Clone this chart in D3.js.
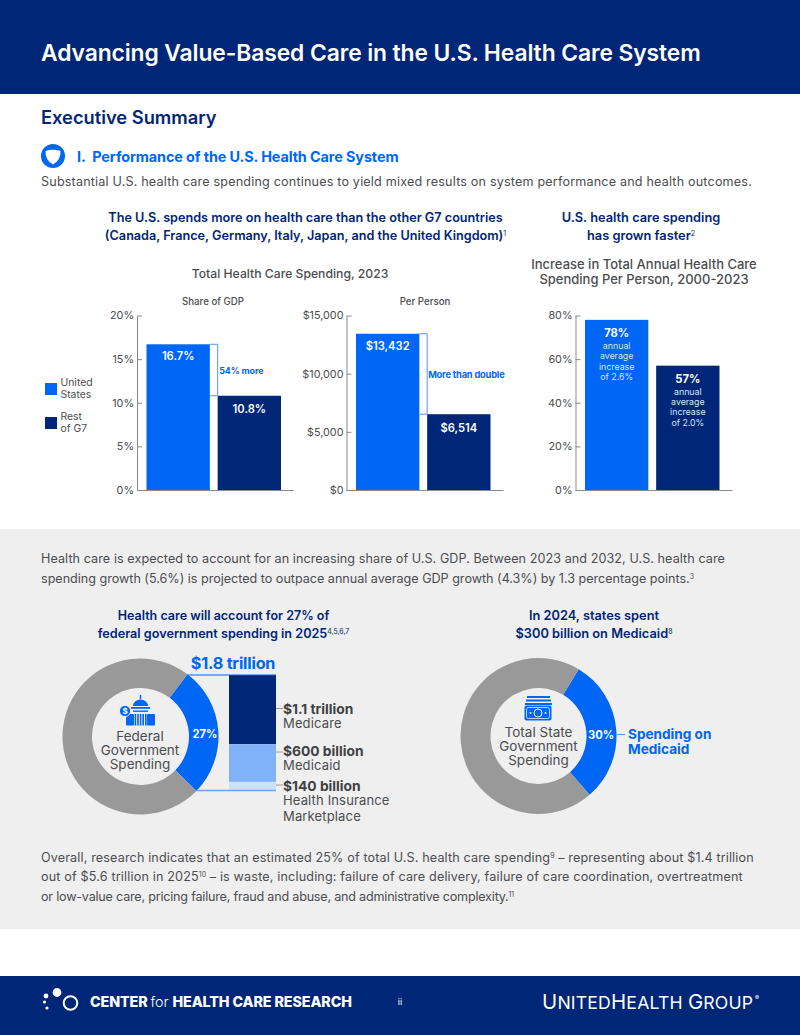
<!DOCTYPE html>
<html><head><meta charset="utf-8">
<script src="https://cdn.jsdelivr.net/npm/d3@7/dist/d3.min.js"></script>
<style>html,body{margin:0;padding:0;background:#fff}svg{display:block}text{font-family:Inter,"Noto Sans",sans-serif}</style>
</head><body><svg id="c" width="800" height="1035"></svg>
<script>
const NAVY="#002677",BLUE="#0066F5",GRAY="#4B4D4F",RING="#999999",EDGE="#5A94E8";
const barCategories=["United States","Rest of G7"];
const gdpShare=[16.7,10.8];
const gdpLabels=["16.7%","10.8%"];
const gdpTicks=[0,5,10,15,20];
const perPerson=[13432,6514];
const perPersonLabels=["$13,432","$6,514"];
const perPersonTicks=[0,5000,10000,15000];
const growth=[78,57];
const growthLabels=["78%","57%"];
const growthNotes=[["annual","average","increase","of 2.6%"],["annual","average","increase","of 2.0%"]];
const growthTicks=[0,20,40,60,80];
const federalShare=[27,73];
const stateShare=[30,70];
const stackNames=["Medicare","Medicaid","Health Insurance Marketplace"];
const stackValues=[1.1,0.6,0.14];
const stackColors=[NAVY,"#80B2FA","#CCE0FD"];

const svg=d3.select("#c");
function T(x,y,s,o={}){
  const t=svg.append("text").attr("x",x).attr("y",y).attr("font-size",o.size||12.5)
    .attr("font-weight",o.weight||400).attr("fill",o.fill||GRAY).attr("text-anchor",o.anchor||"start");
  if(o.ls!=null)t.attr("letter-spacing",o.ls);
  const parts=Array.isArray(s)?s:[s];
  let pending=0;
  parts.forEach(p=>{
    if(p==="")return;
    if(typeof p==="string"){const q=t.append("tspan").text(p);if(pending){q.attr("dy",pending);pending=0;}}
    else{t.append("tspan").attr("font-size",(o.size||12.5)*0.55).attr("dy",-4).attr("font-weight",400).attr("letter-spacing",0).text(p.sup);pending=4;}
  });
  return t;
}
const R=(x,y,w,h,f)=>svg.append("rect").attr("x",x).attr("y",y).attr("width",w).attr("height",h).attr("fill",f);

R(0,0,800,94,NAVY);R(0,529,800,400,"#EFEFEF");R(0,976,800,59,NAVY);

T(41,61,"Advancing Value-Based Care in the U.S. Health Care System",{size:22.85,weight:600,fill:"#fff",ls:-0.1});
T(41,124,"Executive Summary",{size:18.3,weight:600,fill:NAVY});
svg.append("circle").attr("cx",53).attr("cy",156).attr("r",12).attr("fill",BLUE);
svg.append("path").attr("d","M45.5 151 Q53 148.5 60.5 151 Q61 160 53 164.5 Q45 160 45.5 151Z").attr("fill","#fff");
T(77,162,"I.\u00a0\u00a0Performance of the U.S. Health Care System",{size:14.4,weight:700,fill:BLUE,ls:-0.1});
T(41,186,"Substantial U.S. health care spending continues to yield mixed results on system performance and health outcomes.",{size:12.6,ls:0.177});

T(305.5,222,"The U.S. spends more on health care than the other G7 countries",{size:12.65,weight:600,fill:NAVY,anchor:"middle"});
T(305.5,239.5,["(Canada, France, Germany, Italy, Japan, and the United Kingdom)",{sup:"1"}],{size:12.65,weight:600,fill:NAVY,anchor:"middle"});
T(641,222,"U.S. health care spending",{size:12.8,weight:600,fill:NAVY,anchor:"middle"});
T(641,239.5,["has grown faster",{sup:"2"}],{size:12.8,weight:600,fill:NAVY,anchor:"middle"});
T(290,278,"Total Health Care Spending, 2023",{size:12.2,weight:500,anchor:"middle"});
T(644,269,"Increase in Total Annual Health Care",{size:13,weight:500,anchor:"middle"});
T(644,284,"Spending Per Person, 2000-2023",{size:13,weight:500,anchor:"middle"});
T(213,305,"Share of GDP",{size:9.7,weight:500,anchor:"middle"});
T(425,305,"Per Person",{size:9.7,weight:500,anchor:"middle"});

R(45,383,12,12,BLUE);R(45,417,12,12,NAVY);
T(60.5,386,"United",{size:10.4});T(60.5,398,"States",{size:10.4});
T(60.5,420,"Rest",{size:10.4});T(60.5,432,"of G7",{size:10.4});

function barChart(cfg){
  const y=d3.scaleLinear().domain(cfg.domain).range([490,315.5]);
  const x=d3.scaleBand().domain(barCategories).range([cfg.x+9.5,cfg.x+9.5+134.5]).paddingInner(0.11).paddingOuter(0);
  const g=svg.append("g");
  const ax=d3.axisLeft(y).tickValues(cfg.ticks).tickFormat(cfg.fmt).tickSize(-5).tickSizeOuter(0).tickPadding(3);
  const ag=g.append("g").attr("transform",`translate(${cfg.x},0)`).call(ax);
  ag.select(".domain").attr("stroke","#8a8a8a");
  ag.selectAll(".tick line").attr("stroke","#8a8a8a").attr("x1",0).attr("x2",5);
  ag.selectAll("text").attr("font-size",10.8).attr("fill",GRAY).attr("font-family","Inter").attr("x",-3);
  const bx=d3.axisBottom(d3.scaleLinear().domain([0,1]).range([cfg.x,cfg.x+cfg.w])).tickValues([]).tickSizeOuter(0);
  const bg=g.append("g").attr("transform","translate(0,490)").call(bx);
  bg.select(".domain").attr("stroke","#8a8a8a");
  g.selectAll("rect.b").data(cfg.values).join("rect").attr("class","b")
    .attr("x",(d,i)=>x(barCategories[i])).attr("width",x.bandwidth())
    .attr("y",d=>y(d)).attr("height",d=>490-y(d)).attr("fill",(d,i)=>i?NAVY:BLUE);
  return {x,y,g};
}
function bracket(c,vals){
  const a=c.x(barCategories[0])+c.x.bandwidth(),b=c.x(barCategories[1]);
  const y0=c.y(vals[0]),y1=c.y(vals[1]);
  c.g.append("path").attr("d",`M${a} ${y0}H${b}V${y1}H${a}`).attr("fill","none").attr("stroke",EDGE).attr("stroke-width",1);
  return {mid:(y0+y1)/2,b};
}
const c1=barChart({x:137,w:156,domain:[0,20],ticks:gdpTicks,fmt:d=>d+"%",values:gdpShare});
const c2=barChart({x:346.5,w:156.5,domain:[0,15000],ticks:perPersonTicks,fmt:d3.format("$,"),values:perPerson});
const c3=barChart({x:575.5,w:156.5,domain:[0,80],ticks:growthTicks,fmt:d=>d+"%",values:growth});
const b1=bracket(c1,gdpShare),b2=bracket(c2,perPerson);
T(b1.b+1.5,b1.mid+3.5,"54% more",{size:8.9,weight:700,fill:BLUE,ls:-0.1});
T(b2.b+1,377.5,"More than double",{size:9.3,weight:700,fill:BLUE,ls:-0.2});
[[c1,gdpShare,gdpLabels],[c2,perPerson,perPersonLabels]].forEach(([c,v,l])=>v.forEach((d,i)=>
  T(c.x(barCategories[i])+c.x.bandwidth()/2,c.y(d)+(i?17.5:16),l[i],{size:11.2,weight:600,fill:"#fff",anchor:"middle"})));
growth.forEach((d,i)=>{
  const cx=c3.x(barCategories[i])+c3.x.bandwidth()/2,top=c3.y(d);
  T(cx,top+17,growthLabels[i],{size:11.2,weight:700,fill:"#fff",anchor:"middle"});
  growthNotes[i].forEach((n,j)=>T(cx,top+29+j*10.4,n,{size:8.8,fill:"#D6E4FB",anchor:"middle"}));
});

T(41,563,"Health care is expected to account for an increasing share of U.S. GDP. Between 2023 and 2032, U.S. health care",{size:12.6,ls:0.07});
T(41,583,["spending growth (5.6%) is projected to outpace annual average GDP growth (4.3%) by 1.3 percentage points.",{sup:"3"}],{size:12.6,ls:-0.015});
T(223.5,619.5,"Health care will account for 27% of",{size:12.5,weight:600,fill:NAVY,anchor:"middle"});
T(223.5,637.5,["federal government spending in 2025",{sup:"4,5,6,7"}],{size:12.65,weight:600,fill:NAVY,anchor:"middle"});
T(594,619.5,"In 2024, states spent",{size:12.8,weight:600,fill:NAVY,anchor:"middle"});
T(594,637.5,["$300 billion on Medicaid",{sup:"8"}],{size:12.8,weight:600,fill:NAVY,anchor:"middle"});

function donut(cx,cy,ro,ri,vals,startDeg){
  const pie=d3.pie().sort(null).startAngle(startDeg*Math.PI/180).endAngle((startDeg+360)*Math.PI/180)(vals);
  const arc=d3.arc().innerRadius(ri).outerRadius(ro);
  const g=svg.append("g").attr("transform",`translate(${cx},${cy})`);
  g.selectAll("path").data(pie).join("path").attr("d",arc).attr("fill",(d,i)=>i?RING:BLUE);
  return pie;
}
const p1=donut(140.5,736.5,78,48.5,federalShare,37);
donut(538.5,736,78,48,stateShare,31);

const sy=d3.scaleLinear().domain([0,d3.sum(stackValues)]).range([675,790.7]);
let acc=0;const stackTop=stackValues.map(v=>{const a=acc;acc+=v;return a;});
svg.selectAll("rect.s").data(stackValues).join("rect").attr("class","s").attr("x",229).attr("width",47)
  .attr("y",(d,i)=>sy(stackTop[i])).attr("height",d=>sy(d)-sy(0)).attr("fill",(d,i)=>stackColors[i]);
const ang=p1[0].startAngle,ang2=p1[0].endAngle;
svg.append("line").attr("x1",140.5+78*Math.sin(ang)).attr("x2",276).attr("y1",675).attr("y2",675).attr("stroke",BLUE).attr("stroke-width",1.2);
svg.append("line").attr("x1",140.5+78*Math.sin(ang2)).attr("x2",276).attr("y1",790.5).attr("y2",790.5).attr("stroke","#6FA3EE").attr("stroke-width",1.4);
T(233,668.5,"$1.8 trillion",{size:16.2,weight:700,fill:BLUE,anchor:"middle",ls:-0.2});
T(205,738,"27%",{size:11.2,weight:700,fill:"#fff",anchor:"middle"});
T(140,740.5,"Federal",{size:13.5,anchor:"middle"});
T(140,754.5,"Government",{size:13.5,anchor:"middle"});
T(140,768.5,"Spending",{size:13.5,anchor:"middle"});

const leaders=[[708.5,709,"$1.1 trillion",728,["Medicare"]],[752,751,"$600 billion",770,["Medicaid"]],[785,786,"$140 billion",805,["Health Insurance","Marketplace"]]];
leaders.forEach(([ly,y,h,y2,ls])=>{
  svg.append("line").attr("x1",276).attr("x2",283).attr("y1",ly).attr("y2",ly).attr("stroke","#9a9a9a");
  T(283,y+4.5,h,{size:13.8,weight:700,fill:"#3f4143"});
  ls.forEach((t,j)=>T(283,y2+j*16,t,{size:13,ls:0.15}));
});

const cap=svg.append("g").attr("fill",BLUE);
cap.append("path").attr("d","M133 706a7.5 6.5 0 0 1 15 0z");
cap.append("rect").attr("x",139.8).attr("y",695).attr("width",1.4).attr("height",4);
cap.append("rect").attr("x",131).attr("y",707).attr("width",19).attr("height",1.8);
cap.append("rect").attr("x",133).attr("y",710.5).attr("width",15).attr("height",1.4);
cap.append("rect").attr("x",126).attr("y",714).attr("width",8).attr("height",11.5).attr("rx",1);
cap.append("rect").attr("x",147).attr("y",714).attr("width",8).attr("height",11.5).attr("rx",1);
d3.range(5).forEach(i=>cap.append("rect").attr("x",134.6+i*2.6).attr("y",714).attr("width",1.6).attr("height",11.5));
cap.append("circle").attr("cx",125).attr("cy",711).attr("r",5.6).attr("stroke","#EFEFEF");
svg.append("text").attr("x",125).attr("y",714).attr("text-anchor","middle").attr("font-size",8).attr("font-weight",700).attr("fill","#fff").text("$");

const mon=svg.append("g");
mon.append("rect").attr("x",527).attr("y",696).attr("width",23).attr("height",2).attr("fill",BLUE);
mon.append("rect").attr("x",526).attr("y",699.5).attr("width",25).attr("height",2).attr("fill",BLUE);
mon.append("rect").attr("x",525).attr("y",703).attr("width",27).attr("height",2).attr("fill",BLUE);
mon.append("rect").attr("x",524.5).attr("y",705.5).attr("width",27).attr("height",15).attr("rx",2).attr("fill",BLUE);
mon.append("circle").attr("cx",538).attr("cy",713).attr("r",4).attr("fill","none").attr("stroke","#fff").attr("stroke-width",1);
mon.append("rect").attr("x",526.5).attr("y",707.5).attr("width",23).attr("height",11).attr("rx",2).attr("fill","none").attr("stroke","#fff").attr("stroke-width",.7);
mon.append("circle").attr("cx",530.5).attr("cy",713).attr("r",1).attr("fill","#fff");
mon.append("circle").attr("cx",545.5).attr("cy",713).attr("r",1).attr("fill","#fff");

T(538.5,737,"Total State",{size:13.5,anchor:"middle"});
T(538.5,751,"Government",{size:13.5,anchor:"middle"});
T(538.5,765,"Spending",{size:13.5,anchor:"middle"});
T(601,739,"30%",{size:11.2,weight:700,fill:"#fff",anchor:"middle"});
svg.append("line").attr("x1",616.5).attr("x2",625).attr("y1",734.5).attr("y2",734.5).attr("stroke",EDGE);
T(628,739,"Spending on",{size:13.6,weight:700,fill:BLUE});
T(628,754,"Medicaid",{size:13.6,weight:700,fill:BLUE});

T(41,862,["Overall, research indicates that an estimated 25% of total U.S. health care spending",{sup:"9"}," – representing about $1.4 trillion"],{size:12.6,ls:0.14});
T(41,881,["out of $5.6 trillion in 2025",{sup:"10"}," – is waste, including: failure of care delivery, failure of care coordination, overtreatment"],{size:12.6,ls:0.163});
T(41,901,["or low-value care, pricing failure, fraud and abuse, and administrative complexity.",{sup:"11"}],{size:12.6,ls:-0.21});

[[44.5,1002,1.6],[46,996,2.4],[47,1008,1.6],[57,992.5,4.4]].forEach(([x,y,r])=>svg.append("circle").attr("cx",x).attr("cy",y).attr("r",r).attr("fill","#fff"));
svg.append("circle").attr("cx",70.5).attr("cy",1003).attr("r",6.8).attr("fill","none").attr("stroke","#fff").attr("stroke-width",2);
const ft=T(90,1007,"",{size:14.3,weight:800,fill:"#fff",ls:-0.1});
ft.append("tspan").text("CENTER ");ft.append("tspan").attr("font-weight",300).text("for ");ft.append("tspan").text("HEALTH CARE RESEARCH");
T(400,1005,"ii",{size:9,fill:"#fff",anchor:"middle"});
const ug=T(542,1009,"",{size:20.4,weight:400,fill:"#fff",ls:0.2});
ug.append("tspan").text("U");ug.append("tspan").attr("font-size",17.6).text("NITED");ug.append("tspan").text("H");ug.append("tspan").attr("font-size",17.6).text("EALTH ");ug.append("tspan").text("G");ug.append("tspan").attr("font-size",17.6).text("ROUP");
T(755,1000,"®",{size:6,fill:"#fff"});
</script></body></html>
